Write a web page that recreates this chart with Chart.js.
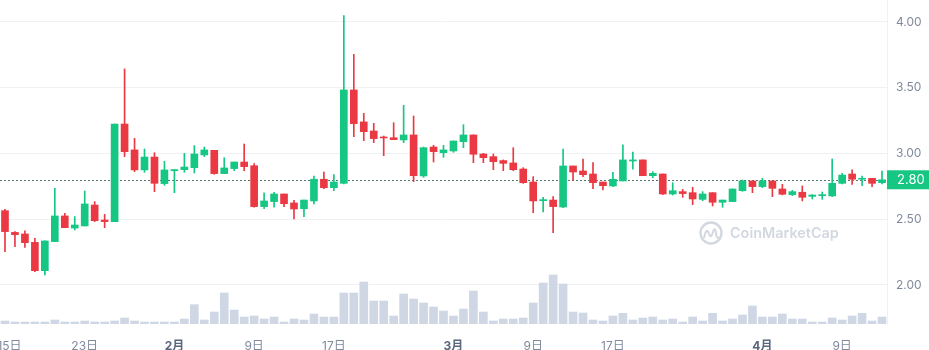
<!DOCTYPE html>
<html>
<head>
<meta charset="utf-8">
<script src="https://cdn.jsdelivr.net/npm/chart.js@4.4.1/dist/chart.umd.min.js"></script>
<style>
  html, body { margin: 0; padding: 0; background: #ffffff; }
  #wrap { width: 929px; height: 350px; position: relative; }
</style>
</head>
<body>
<div id="wrap"><canvas id="chart" width="929" height="350"></canvas></div>
<script>
// Daily candles, 2023-01-15 .. 2023-04-13
const dates = [
  '01-15','01-16','01-17','01-18','01-19','01-20','01-21','01-22','01-23','01-24','01-25','01-26','01-27','01-28','01-29','01-30','01-31',
  '02-01','02-02','02-03','02-04','02-05','02-06','02-07','02-08','02-09','02-10','02-11','02-12','02-13','02-14','02-15','02-16','02-17','02-18','02-19','02-20','02-21','02-22','02-23','02-24','02-25','02-26','02-27','02-28',
  '03-01','03-02','03-03','03-04','03-05','03-06','03-07','03-08','03-09','03-10','03-11','03-12','03-13','03-14','03-15','03-16','03-17','03-18','03-19','03-20','03-21','03-22','03-23','03-24','03-25','03-26','03-27','03-28','03-29','03-30','03-31',
  '04-01','04-02','04-03','04-04','04-05','04-06','04-07','04-08','04-09','04-10','04-11','04-12','04-13'
];

const opens = [
  2.565,2.400,2.388,2.324,2.109,2.330,2.525,2.433,2.449,2.608,2.494,2.482,3.224,3.027,2.875,2.973,2.771,
  2.869,2.877,2.892,2.989,3.024,2.847,2.885,2.935,2.907,2.596,2.634,2.692,2.624,2.580,2.639,2.804,2.740,2.773,3.483,3.240,3.171,3.125,3.120,3.103,3.141,2.829,3.049,3.006,
  3.019,3.090,3.141,2.996,2.976,2.946,2.928,2.882,2.783,2.641,2.646,2.593,2.905,2.867,2.844,2.783,2.753,2.791,2.943,2.951,2.831,2.844,2.692,2.710,2.702,2.651,2.702,2.629,2.634,2.717,2.791,
  2.748,2.791,2.730,2.687,2.705,2.674,2.679,2.677,2.773,2.844,2.804,2.811,2.778
];
const highs = [
  2.575,2.406,2.411,2.355,2.335,2.735,2.545,2.520,2.715,2.634,2.537,3.224,3.643,3.115,3.034,3.006,2.940,
  2.880,3.001,3.060,3.049,3.024,2.968,2.935,3.072,2.923,2.700,2.705,2.692,2.644,2.646,2.829,2.859,2.839,4.048,3.754,3.305,3.229,3.133,3.234,3.366,3.285,3.049,3.062,3.062,
  3.095,3.219,3.141,3.001,2.996,2.951,3.044,2.892,2.824,2.667,2.672,3.034,2.905,2.958,2.930,2.783,2.857,3.065,3.011,2.951,2.862,2.844,2.778,2.727,2.743,2.710,2.702,2.646,2.730,2.798,2.791,
  2.811,2.791,2.765,2.720,2.753,2.687,2.707,2.958,2.849,2.875,2.829,2.811,2.867
];
const lows = [
  2.253,2.292,2.286,2.101,2.076,2.330,2.436,2.418,2.449,2.482,2.436,2.482,2.976,2.862,2.857,2.710,2.758,
  2.702,2.857,2.852,2.976,2.842,2.847,2.869,2.869,2.591,2.580,2.591,2.596,2.502,2.520,2.616,2.733,2.717,2.768,3.128,3.098,3.082,2.983,3.105,3.082,2.786,2.819,2.935,2.971,
  3.009,3.044,2.930,2.930,2.877,2.869,2.869,2.773,2.550,2.555,2.398,2.588,2.796,2.824,2.733,2.722,2.748,2.791,2.880,2.831,2.816,2.687,2.684,2.667,2.611,2.641,2.601,2.591,2.634,2.712,2.702,
  2.740,2.672,2.685,2.679,2.639,2.654,2.651,2.672,2.768,2.765,2.755,2.748,2.768
];
const closes = [
  2.406,2.383,2.322,2.109,2.335,2.525,2.436,2.456,2.616,2.489,2.482,3.224,3.014,2.875,2.973,2.773,2.875,
  2.877,2.897,2.996,3.027,2.847,2.890,2.935,2.900,2.596,2.639,2.692,2.618,2.578,2.646,2.804,2.740,2.783,3.483,3.227,3.166,3.113,3.118,3.105,3.141,2.831,3.044,3.014,3.027,
  3.095,3.141,2.994,2.968,2.938,2.925,2.877,2.778,2.639,2.649,2.596,2.905,2.859,2.839,2.778,2.755,2.804,2.951,2.951,2.831,2.849,2.692,2.717,2.695,2.654,2.692,2.629,2.646,2.730,2.791,2.748,
  2.791,2.735,2.690,2.710,2.667,2.684,2.687,2.773,2.836,2.804,2.811,2.773,2.800
];
// Trading volume, millions USD
const volumes = [
  1.8,1.2,1.2,1.2,1.2,2.4,1.2,1.2,1.8,1.2,1.2,1.8,3.6,1.8,1.2,1.2,1.2,
  1.2,3.0,11.6,2.4,7.2,18.6,8.4,4.2,4.8,3.0,4.2,1.2,3.0,2.4,6.0,4.2,4.2,18.6,18.6,25.2,13.8,13.8,4.8,18.0,15.0,12.6,10.2,7.8,
  4.8,9.0,19.8,7.2,1.8,3.0,3.0,3.6,12.6,24.6,29.4,24.0,7.2,6.6,2.4,1.8,4.8,6.4,2.4,3.6,4.2,2.4,3.0,1.2,4.2,1.8,6.4,1.8,3.0,5.4,10.8,
  4.2,4.2,6.0,3.0,3.0,1.2,1.2,3.6,2.4,4.8,6.4,1.8,4.2
];

const xTickDates  = ['01-15','01-23','02-01','02-09','02-17','03-01','03-09','03-17','04-01','04-09'];
const xTickLabels = ['15日','23日','2月','9日','17日','3月','9日','17日','4月','9日'];
const priceTicks  = [2.00, 2.50, 3.00, 3.50, 4.00];

const UP = '#16c784', DOWN = '#ea3943';
const candleColors = opens.map((o, i) => closes[i] >= o ? UP : DOWN);
const bodies = opens.map((o, i) => [o, closes[i]]);
const wicks  = lows.map((l, i) => [l, highs[i]]);
const tickIndex = xTickDates.map(d => dates.indexOf(d));
const lastPrice = closes[closes.length - 1];
const isMonth = i => /月$/.test(xTickLabels[i] || '');

const FONT = 'Inter, "Noto Sans CJK SC", sans-serif';

const overlay = {
  id: 'overlay',
  beforeDraw(chart) {
    // keep the first date label from running off the left edge
    const items = chart.scales.x.getLabelItems(chart.chartArea);
    if (items.length) items[0].options.translation[0] += 4.5;
  },
  beforeDatasetsDraw(chart) {
    const { ctx, chartArea: a, scales: { y } } = chart;
    ctx.save();
    // watermark
    const cx = 711, cy = 233;
    ctx.strokeStyle = '#d3d8e0';
    ctx.lineWidth = 2.4;
    ctx.beginPath();
    ctx.arc(cx, cy, 10.5, 0, Math.PI * 2);
    ctx.stroke();
    ctx.lineWidth = 2;
    ctx.lineJoin = 'round';
    ctx.beginPath();
    ctx.moveTo(cx - 7, cy + 5);
    ctx.quadraticCurveTo(cx - 4.5, cy - 7, cx - 2, cy + 1);
    ctx.quadraticCurveTo(cx, cy + 6, cx + 2, cy - 1);
    ctx.quadraticCurveTo(cx + 4, cy - 8, cx + 5.5, cy + 3);
    ctx.quadraticCurveTo(cx + 6.5, cy + 6, cx + 9, cy + 4);
    ctx.stroke();
    let size = 17;
    ctx.font = `600 ${size}px ${FONT}`;
    const w = ctx.measureText('CoinMarketCap').width;
    size = size * 109 / w;
    ctx.font = `600 ${size}px ${FONT}`;
    ctx.fillStyle = '#d3d8e0';
    ctx.textBaseline = 'middle';
    ctx.textAlign = 'left';
    ctx.fillText('CoinMarketCap', 730, cy + 1);
    // last price line
    const py = Math.round(y.getPixelForValue(lastPrice)) + 0.5;
    ctx.setLineDash([2, 2]);
    ctx.strokeStyle = '#55786f';
    ctx.lineWidth = 1;
    ctx.beginPath();
    ctx.moveTo(a.left, py);
    ctx.lineTo(a.right, py);
    ctx.stroke();
    ctx.restore();
  },
  afterDraw(chart) {
    const { ctx, chartArea: a, scales: { y } } = chart;
    const py = y.getPixelForValue(lastPrice);
    ctx.save();
    ctx.fillStyle = UP;
    ctx.fillRect(a.right, py - 9.5, chart.width - a.right, 19);
    ctx.fillStyle = '#ffffff';
    ctx.font = `13px ${FONT}`;
    ctx.textBaseline = 'middle';
    ctx.textAlign = 'left';
    ctx.fillText(lastPrice.toFixed(2), a.right + 10, py + 0.5);
    ctx.restore();
  }
};

new Chart(document.getElementById('chart'), {
  type: 'bar',
  data: {
    labels: dates,
    datasets: [
      { label: '成交量', data: volumes, yAxisID: 'yv', backgroundColor: '#cfd6e4', barThickness: 8, order: 3 },
      { label: '影线', data: wicks, yAxisID: 'y', backgroundColor: candleColors, barThickness: 1, order: 2 },
      { label: '实体', data: bodies, yAxisID: 'y', backgroundColor: candleColors, barThickness: 7, minBarLength: 1, order: 1 }
    ]
  },
  options: {
    responsive: false,
    animation: false,
    events: [],
    layout: { padding: 0 },
    plugins: { legend: { display: false }, tooltip: { enabled: false } },
    datasets: { bar: { grouped: false, borderWidth: 0, borderSkipped: false } },
    scales: {
      x: {
        type: 'category',
        offset: true,
        grid: { display: false },
        border: { display: false },
        afterBuildTicks: s => { s.ticks = tickIndex.map(v => ({ value: v })); },
        afterFit: s => { s.paddingLeft = 0; s.paddingRight = 0; s.height = 26; },
        ticks: {
          autoSkip: false,
          maxRotation: 0,
          padding: 7,
          callback: (v, i) => xTickLabels[i],
          color: c => isMonth(c.index) ? '#58667e' : '#808a9d',
          font: c => ({ family: FONT, size: 12, weight: isMonth(c.index) ? '700' : '400' })
        }
      },
      y: {
        position: 'right',
        min: 1.7034,
        max: 4.167,
        grid: { color: '#eff2f5', drawTicks: false },
        border: { display: true, color: '#eff2f5' },
        afterBuildTicks: s => { s.ticks = priceTicks.map(v => ({ value: v })); },
        afterFit: s => { s.width = 42; s.paddingTop = 0; s.paddingBottom = 0; },
        ticks: {
          padding: 9,
          color: '#808a9d',
          font: { family: FONT, size: 12 },
          callback: v => Number(v).toFixed(2)
        }
      },
      yv: { display: false, min: 0, max: 194.4 }
    }
  },
  plugins: [overlay]
});
</script>
</body>
</html>
